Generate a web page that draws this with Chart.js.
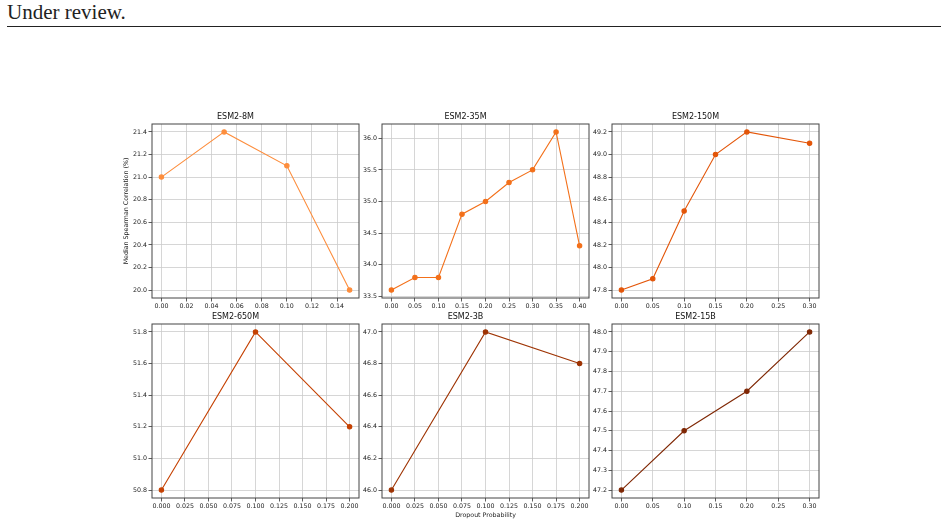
<!DOCTYPE html>
<html lang="en">

<head>
    <meta charset="UTF-8" />
    <title>ESM2 dropout sweep</title>
    <script src="https://cdn.jsdelivr.net/npm/chart.js"></script>
    <style>
        body {
            margin: 0;
            background: #fff;
            width: 948px;
            height: 525px;
            position: relative;
            overflow: hidden;
        }

        .header {
            position: absolute;
            left: 7px;
            top: 2px;
            font-family: "Liberation Serif", "DejaVu Serif", serif;
            font-size: 21px;
            line-height: 21px;
            color: #222;
        }

        .rule {
            position: absolute;
            left: 7px;
            top: 26px;
            width: 934px;
            height: 1.3px;
            background: #222;
        }

        .panel {
            position: absolute;
            width: 263px;
            height: 214px;
        }
    </style>
</head>

<body>
    <div class="header">Under review.</div>
    <div class="rule"></div>

    <div class="panel" style="left:112px;top:108px"><canvas id="c0"></canvas></div>
    <div class="panel" style="left:342px;top:108px"><canvas id="c1"></canvas></div>
    <div class="panel" style="left:572px;top:108px"><canvas id="c2"></canvas></div>
    <div class="panel" style="left:112px;top:308px"><canvas id="c3"></canvas></div>
    <div class="panel" style="left:342px;top:308px"><canvas id="c4"></canvas></div>
    <div class="panel" style="left:572px;top:308px"><canvas id="c5"></canvas></div>

    <script>
        // dropout probability vs median spearman (%), one pair per model
        const dropout8M = [0, 0.05, 0.1, 0.15];
        const spearman8M = [21.0, 21.4, 21.1, 20.0];

        const dropout35M = [0, 0.05, 0.1, 0.15, 0.2, 0.25, 0.3, 0.35, 0.4];
        const spearman35M = [33.6, 33.8, 33.8, 34.8, 35.0, 35.3, 35.5, 36.1, 34.3];

        const dropout150M = [0, 0.05, 0.1, 0.15, 0.2, 0.3];
        const spearman150M = [47.8, 47.9, 48.5, 49.0, 49.2, 49.1];

        const dropout650M = [0, 0.1, 0.2];
        const spearman650M = [50.8, 51.8, 51.2];

        const dropout3B = [0, 0.1, 0.2];
        const spearman3B = [46.0, 47.0, 46.8];

        const dropout15B = [0, 0.1, 0.2, 0.3];
        const spearman15B = [47.2, 47.5, 47.7, 48.0];

        const modelNames = ['ESM2-8M', 'ESM2-35M', 'ESM2-150M', 'ESM2-650M', 'ESM2-3B', 'ESM2-15B'];
        const xTickSteps = [0.02, 0.05, 0.05, 0.025, 0.025, 0.05];
        const xTickDecimals = [2, 2, 2, 3, 3, 2];
        const yTickSteps = [0.2, 0.5, 0.2, 0.2, 0.2, 0.1];
        const lineColors = ['#fd8d3c', '#f3701a', '#e35508', '#c54102', '#9e3303', '#7f2704'];

        const allX = [dropout8M, dropout35M, dropout150M, dropout650M, dropout3B, dropout15B];
        const allY = [spearman8M, spearman35M, spearman150M, spearman650M, spearman3B, spearman15B];

        const tickFont = { family: 'DejaVu Sans', size: 6.3 };

        // matplotlib style box around the axes
        const framePlugin = {
            id: 'frame',
            afterDraw(chart) {
                const a = chart.chartArea;
                const ctx = chart.ctx;
                ctx.save();
                ctx.strokeStyle = '#444';
                ctx.lineWidth = 1;
                ctx.strokeRect(a.left, a.top, a.right - a.left, a.bottom - a.top);
                ctx.restore();
            }
        };

        function padRange(vals) {
            const lo = Math.min(...vals), hi = Math.max(...vals);
            const m = (hi - lo) * 0.05;
            return [lo - m, hi + m];
        }

        allX.forEach((xs, i) => {
            const ys = allY[i];
            const [xmin, xmax] = padRange(xs);
            const [ymin, ymax] = padRange(ys);
            new Chart(document.getElementById('c' + i), {
                type: 'line',
                data: {
                    datasets: [{
                        data: xs.map((x, k) => ({ x: x, y: ys[k] })),
                        borderColor: lineColors[i],
                        backgroundColor: lineColors[i],
                        borderWidth: 1.1,
                        pointRadius: 2.2,
                        pointHoverRadius: 2.2,
                        tension: 0,
                        fill: false
                    }]
                },
                options: {
                    responsive: true,
                    maintainAspectRatio: false,
                    animation: false,
                    layout: { padding: { left: 0, right: 16, top: 0, bottom: 0 } },
                    plugins: {
                        legend: { display: false },
                        tooltip: { enabled: false },
                        title: {
                            display: true,
                            text: modelNames[i],
                            color: '#111',
                            font: { family: 'DejaVu Sans', size: 8, weight: 'normal' },
                            padding: { top: 4, bottom: 2.4 }
                        }
                    },
                    scales: {
                        x: {
                            type: 'linear',
                            min: xmin,
                            max: xmax,
                            afterFit: s => { s.height = 24; },
                            border: { display: false },
                            grid: {
                                color: '#cbcbcb',
                                lineWidth: 0.8,
                                tickColor: '#333',
                                tickLength: 3.5,
                                tickWidth: 0.8
                            },
                            ticks: {
                                stepSize: xTickSteps[i],
                                includeBounds: false,
                                autoSkip: false,
                                maxRotation: 0,
                                padding: 1,
                                color: '#222',
                                font: tickFont,
                                callback: v => v.toFixed(xTickDecimals[i])
                            },
                            title: {
                                display: i === 4,
                                text: 'Dropout Probability',
                                color: '#222',
                                font: tickFont,
                                padding: { top: 0, bottom: 3.2 }
                            }
                        },
                        y: {
                            min: ymin,
                            max: ymax,
                            afterFit: s => { s.width = 40; },
                            border: { display: false },
                            grid: {
                                color: '#cbcbcb',
                                lineWidth: 0.8,
                                tickColor: '#333',
                                tickLength: 3.5,
                                tickWidth: 0.8
                            },
                            ticks: {
                                stepSize: yTickSteps[i],
                                includeBounds: false,
                                padding: 1.5,
                                color: '#222',
                                font: tickFont,
                                callback: v => v.toFixed(1)
                            },
                            title: {
                                display: i === 0,
                                text: 'Median Spearman Correlation (%)',
                                color: '#222',
                                font: tickFont,
                                padding: { top: 10.2, bottom: 0 }
                            }
                        }
                    }
                },
                plugins: [framePlugin]
            });
        });
    </script>
</body>

</html>
